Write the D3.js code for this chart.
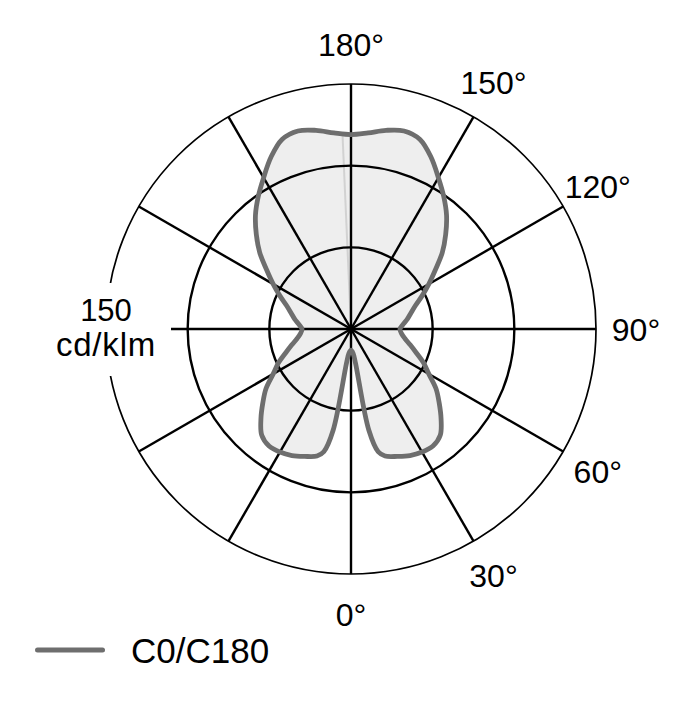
<!DOCTYPE html>
<html>
<head>
<meta charset="utf-8">
<script src="https://cdn.jsdelivr.net/npm/d3@7"></script>
<style>
  html, body { margin: 0; padding: 0; background: #fff; }
  svg { display: block; font-family: "Liberation Sans", Arial, sans-serif; }
</style>
</head>
<body>
<svg id="chart" width="680" height="720"></svg>
<script>
// gamma angles (deg) of the C0/C180 curve, 0 = down, 180 = up
const gammas = [0, 5, 7.5, 10, 12.5, 15, 20, 25, 30, 35, 40, 45, 50, 55, 60, 65, 70, 75, 80, 85,
  90, 95, 100, 105, 110, 115, 120, 125, 130, 135, 140, 145, 150, 155, 160, 165, 170, 175, 180];
// intensity in cd/klm
const intensity = [13, 15, 21, 63, 77, 80.5, 83, 85.5, 87, 87.5, 85, 78, 70.5, 63.5, 55, 49, 42.5, 37.5, 33.5, 31,
  30, 32, 35, 38, 42, 48, 55, 63, 73, 82, 91, 99, 107, 116, 123.5, 125.5, 123.5, 120.5, 119];
const rings = [50, 100, 150];
const spokeAngles = d3.range(0, 360, 30);
const angleLabels = [0, 30, 60, 90, 120, 150, 180];
const seriesName = "C0/C180";

const svg = d3.select("#chart");
const cx = 351, cy = 329;
const r = d3.scaleLinear().domain([0, 150]).range([0, 245]);

// gamma -> screen, right side (C0) and mirrored left side (C180)
const px = (g, v, side) => cx + side * r(v) * Math.sin(g * Math.PI / 180);
const py = (g, v) => cy + r(v) * Math.cos(g * Math.PI / 180);

const pts = [];
gammas.forEach((g, i) => pts.push([px(g, intensity[i], 1), py(g, intensity[i])]));
for (let i = gammas.length - 2; i > 0; i--) {
  pts.push([px(gammas[i], intensity[i], -1), py(gammas[i], intensity[i])]);
}
const line = d3.line().curve(d3.curveCatmullRomClosed.alpha(0.5));

const g = svg.append("g");

// fill
g.append("path")
  .attr("d", line(pts))
  .attr("fill", "#eeeeee")
  .attr("stroke", "none");

// faint seam near 180
const seamG = 177.5;
g.append("line")
  .attr("x1", cx).attr("y1", cy)
  .attr("x2", px(seamG, 119.5, -1)).attr("y2", py(seamG, 119.5))
  .attr("stroke", "#d2d2d2")
  .attr("stroke-width", 2);

// grid
const grid = g.append("g").attr("fill", "none").attr("stroke", "#000");
grid.selectAll("circle")
  .data(rings)
  .join("circle")
  .attr("cx", cx).attr("cy", cy)
  .attr("r", d => r(d))
  .attr("stroke-width", d => d === 150 ? 1.7 : 2.4);

grid.selectAll("line")
  .data(spokeAngles)
  .join("line")
  .attr("x1", cx).attr("y1", cy)
  .attr("x2", d => cx + r(150) * Math.sin(d * Math.PI / 180))
  .attr("y2", d => cy + r(150) * Math.cos(d * Math.PI / 180))
  .attr("stroke-width", 2.4);

// curve outline
g.append("path")
  .attr("d", line(pts))
  .attr("fill", "none")
  .attr("stroke", "#6e6e6e")
  .attr("stroke-width", 4.8)
  .attr("stroke-linejoin", "round");

// scale label with white box
const lx = cx - r(150);
g.append("rect")
  .attr("x", lx - 65).attr("y", 283)
  .attr("width", 130).attr("height", 93)
  .attr("fill", "#fff");
g.append("text")
  .attr("x", lx).attr("y", 321)
  .attr("text-anchor", "middle")
  .attr("font-size", 31)
  .text("150");
g.append("text")
  .attr("x", lx).attr("y", 356)
  .attr("text-anchor", "middle")
  .attr("font-size", 33)
  .attr("letter-spacing", 0.8)
  .text("cd/klm");

// angle labels
const lr = r(150) + 40;
g.selectAll("text.ang")
  .data(angleLabels)
  .join("text")
  .attr("class", "ang")
  .attr("x", d => cx + lr * Math.sin(d * Math.PI / 180))
  .attr("y", d => cy + lr * Math.cos(d * Math.PI / 180) + 11.5)
  .attr("text-anchor", "middle")
  .attr("font-size", 32)
  .text(d => d + "°");

// legend
const leg = svg.append("g");
leg.append("line")
  .attr("x1", 37.5).attr("x2", 102.5)
  .attr("y1", 650).attr("y2", 650)
  .attr("stroke", "#6e6e6e")
  .attr("stroke-width", 5)
  .attr("stroke-linecap", "round");
leg.append("text")
  .attr("x", 131).attr("y", 663)
  .attr("font-size", 35)
  .text(seriesName);
</script>
</body>
</html>
